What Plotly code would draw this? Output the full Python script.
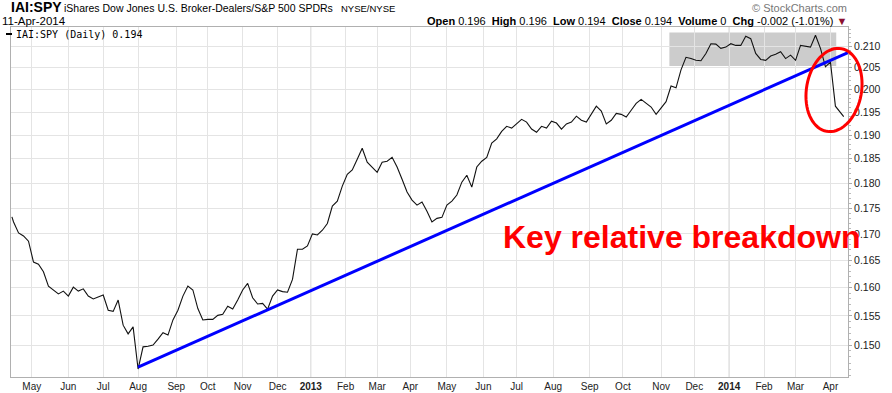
import numpy as np
import pandas as pd
import plotly.graph_objects as go

# ---------------- data ----------------
SYMBOL = "IAI:SPY"
NAME = "iShares Dow Jones U.S. Broker-Dealers/S&P 500 SPDRs"
EXCHANGE = "NYSE/NYSE"
AS_OF = "11-Apr-2014"
OPEN, HIGH, LOW, CLOSE, VOLUME = 0.196, 0.196, 0.194, 0.194, 0
CHG, CHG_PCT = -0.002, -1.01

FIRST_DAY = "2012-04-13"
LAST_DAY = "2014-04-11"
HOLIDAYS = ["2012-05-28", "2012-07-04", "2012-09-03", "2012-10-29", "2012-10-30",
            "2012-11-22", "2012-12-25", "2013-01-01", "2013-01-21", "2013-02-18",
            "2013-03-29", "2013-05-27", "2013-07-04", "2013-09-02", "2013-11-28",
            "2013-12-25", "2014-01-01", "2014-01-20", "2014-02-17"]

# IAI:SPY ratio, first session, then every third session from the 2nd, then the last session
RATIO = [
    0.1733,
    0.1723, 0.1702, 0.1696, 0.1686, 0.1647, 0.1643, 0.1629, 0.1603, 0.1596, 0.1589,
    0.1594, 0.1585, 0.1601, 0.1594, 0.1598, 0.1585, 0.1580, 0.1583, 0.1587, 0.1560,
    0.1558, 0.1578, 0.1534, 0.1519, 0.1531, 0.1460, 0.1497, 0.1498, 0.1500, 0.1510,
    0.1521, 0.1517, 0.1543, 0.1560, 0.1585, 0.1603, 0.1596, 0.1563, 0.1543, 0.1544,
    0.1544, 0.1551, 0.1553, 0.1567, 0.1562, 0.1578, 0.1596, 0.1608, 0.1582, 0.1571,
    0.1572, 0.1562, 0.1585, 0.1596, 0.1593, 0.1592, 0.1615, 0.1671, 0.1671, 0.1677,
    0.1700, 0.1698, 0.1707, 0.1720, 0.1754, 0.1764, 0.1794, 0.1818, 0.1827, 0.1849,
    0.1872, 0.1843, 0.1833, 0.1822, 0.1843, 0.1845, 0.1853, 0.1833, 0.1808, 0.1782,
    0.1766, 0.1756, 0.1762, 0.1744, 0.1723, 0.1730, 0.1732, 0.1756, 0.1764, 0.1776,
    0.1802, 0.1816, 0.1792, 0.1833, 0.1845, 0.1853, 0.1883, 0.1892, 0.1908, 0.1919,
    0.1915, 0.1924, 0.1934, 0.1928, 0.1913, 0.1906, 0.1919, 0.1915, 0.1930, 0.1926,
    0.1913, 0.1924, 0.1928, 0.1941, 0.1932, 0.1928, 0.1945, 0.1963, 0.1952, 0.1924,
    0.1932, 0.1947, 0.1945, 0.1939, 0.1954, 0.1969, 0.1978, 0.1970, 0.1961, 0.1945,
    0.1958, 0.1973, 0.2008, 0.2004, 0.2045, 0.2074, 0.2071, 0.2067, 0.2066, 0.2083,
    0.2106, 0.2105, 0.2095, 0.2098, 0.2106, 0.2102, 0.2102, 0.2124, 0.2118, 0.2083,
    0.2069, 0.2067, 0.2077, 0.2081, 0.2087, 0.2071, 0.2079, 0.2067, 0.2102, 0.2100,
    0.2098, 0.2126, 0.2095, 0.2052, 0.2063, 0.1963, 0.1950,
    0.1940,
]

TREND_DATES = ["2012-08-01", "2014-04-15 14:00"]
TREND_VALUES = [0.1463, 0.2085]

BOX_DATES = ["2013-11-08", "2014-04-04 12:00"]
BOX_VALUES = [0.2054, 0.2133]

TICK_MONTHS = ["2012-05", "2012-06", "2012-07", "2012-08", "2012-09", "2012-10", "2012-11",
               "2012-12", "2013-01", "2013-02", "2013-03", "2013-04", "2013-05", "2013-06",
               "2013-07", "2013-08", "2013-09", "2013-10", "2013-11", "2013-12", "2014-01",
               "2014-02", "2014-03", "2014-04"]
TICK_LABELS = ["May", "Jun", "Jul", "Aug", "Sep", "Oct", "Nov", "Dec", "2013", "Feb", "Mar",
               "Apr", "May", "Jun", "Jul", "Aug", "Sep", "Oct", "Nov", "Dec", "2014", "Feb",
               "Mar", "Apr"]

Y_TICKS = [0.150, 0.155, 0.160, 0.165, 0.170, 0.175, 0.180, 0.185, 0.190, 0.195, 0.200,
           0.205, 0.210]
Y_RANGE = [0.1447, 0.2146]
X_RANGE = ["2012-04-12 11:00", "2014-04-15 14:00"]

ANNOTATION_TEXT = "Key relative breakdown"

# ---------------- build ----------------
days = pd.bdate_range(FIRST_DAY, LAST_DAY, freq="C", holidays=HOLIDAYS)
n = len(days)
idx = [0] + list(range(1, n - 2, 3)) + [n - 1]
dates = [days[i] for i in idx]
m = min(len(dates), len(RATIO))
dates = dates[-m:]
vals = RATIO[-m:]

firsts = pd.Series(days, index=days).groupby(days.to_period("M")).first()
tickvals = [firsts[pd.Period(mo, freq="M")] for mo in TICK_MONTHS]
ticktext = [f"<b>{t}</b>" if t.isdigit() else t for t in TICK_LABELS]
year_lines = [tv for tv, t in zip(tickvals, TICK_LABELS) if t.isdigit()]

W, H = 892, 393
L, R, T, B = 11, 44, 27, 16
PW, PH = W - L - R, H - T - B


def px_x(px):
    return (px - L) / PW


def px_y(py):
    return (H - B - py) / PH


fig = go.Figure()

fig.add_trace(go.Scatter(x=dates, y=vals, mode="lines",
                         line=dict(color="#111111", width=1.1),
                         hoverinfo="skip", showlegend=False))
fig.add_trace(go.Scatter(x=TREND_DATES, y=TREND_VALUES, mode="lines",
                         line=dict(color="#0000ff", width=3),
                         hoverinfo="skip", showlegend=False))

shapes = []
shapes.append(dict(type="rect", xref="x", yref="y", x0=BOX_DATES[0], x1=BOX_DATES[1],
                   y0=BOX_VALUES[0], y1=BOX_VALUES[1], fillcolor="#cccccc",
                   line=dict(width=0), layer="below"))
for yl in year_lines:
    shapes.append(dict(type="line", xref="x", yref="paper", x0=yl, x1=yl, y0=0, y1=1,
                       line=dict(color="#c6c6c6", width=1), layer="below"))

# red ellipse (annotation, slightly tilted)
cx, cy, a, b, phi = 834.0, 90.0, 42.0, 27.5, np.deg2rad(10)
t = np.linspace(0, 2 * np.pi, 73)
ex = cx + a * np.sin(t) * np.sin(phi) + b * np.cos(t) * np.cos(phi)
ey = cy - a * np.sin(t) * np.cos(phi) + b * np.cos(t) * np.sin(phi)
path = "M " + " L ".join(f"{px_x(x):.5f},{px_y(y):.5f}" for x, y in zip(ex, ey)) + " Z"
shapes.append(dict(type="path", xref="paper", yref="paper", path=path,
                   line=dict(color="#ff0000", width=3), layer="above"))

# legend dash
shapes.append(dict(type="line", xref="paper", yref="paper", x0=px_x(6), x1=px_x(12),
                   y0=px_y(34), y1=px_y(34), line=dict(color="#000000", width=2)))

ann = []
ann.append(dict(text=f"<b>{SYMBOL}</b>", x=px_x(9), y=px_y(7), xanchor="left",
                yanchor="middle", font=dict(family="Liberation Sans", size=14, color="#000")))
ann.append(dict(text=NAME, x=px_x(62), y=px_y(7.5), xanchor="left", yanchor="middle",
                font=dict(family="Liberation Sans", size=10.5, color="#000")))
ann.append(dict(text=EXCHANGE, x=px_x(339), y=px_y(8), xanchor="left", yanchor="middle",
                font=dict(family="Liberation Sans", size=9.5, color="#000")))
ann.append(dict(text=AS_OF, x=px_x(0), y=px_y(21.5), xanchor="left", yanchor="middle",
                font=dict(family="Liberation Sans", size=11.5, color="#000")))
hdr = (f"<b>Open</b> {OPEN:.3f}  <b>High</b> {HIGH:.3f}  <b>Low</b> {LOW:.3f}  "
       f"<b>Close</b> {CLOSE:.3f}  <b>Volume</b> {VOLUME}  <b>Chg</b> {CHG:.3f} "
       f"({CHG_PCT:.2f}%) <span style='color:#8b1030'>▼</span>")
ann.append(dict(text=hdr, x=px_x(849), y=px_y(21), xanchor="right", yanchor="middle",
                font=dict(family="Liberation Sans", size=11, color="#000")))
ann.append(dict(text="© StockCharts.com", x=px_x(849), y=px_y(8), xanchor="right",
                yanchor="middle", font=dict(family="Liberation Sans", size=11, color="#777")))
ann.append(dict(text=f"{SYMBOL} (Daily) {CLOSE:.3f}", x=px_x(14), y=px_y(34.5),
                xanchor="left", yanchor="middle",
                font=dict(family="DejaVu Sans Mono", size=10, color="#000")))
ann.append(dict(text=f"<b>{ANNOTATION_TEXT}</b>", x=px_x(500.5), y=px_y(237),
                xanchor="left", yanchor="middle",
                font=dict(family="Liberation Sans", size=32, color="#ff0000")))
for d in ann:
    d.update(xref="paper", yref="paper", showarrow=False)

minor_vals = [round(v, 3) for v in np.arange(0.145, 0.2145, 0.001)]

fig.update_layout(
    width=W, height=H,
    margin=dict(l=L, r=R, t=T, b=B, pad=0, autoexpand=False),
    paper_bgcolor="white", plot_bgcolor="white",
    showlegend=False,
    shapes=shapes, annotations=ann,
    xaxis=dict(
        type="date", range=X_RANGE,
        rangebreaks=[dict(bounds=["sat", "mon"]), dict(values=HOLIDAYS)],
        tickmode="array", tickvals=tickvals, ticktext=ticktext,
        showgrid=True, gridcolor="#e4e4e4", gridwidth=1,
        showline=True, linecolor="#b0b0b0", linewidth=1, mirror=True,
        ticks="", ticklen=0,
        tickfont=dict(family="Liberation Sans", size=10, color="#222"),
        zeroline=False, fixedrange=True, automargin=False,
    ),
    yaxis=dict(
        type="log", side="right",
        range=[np.log10(Y_RANGE[0]), np.log10(Y_RANGE[1])],
        tickmode="array", tickvals=Y_TICKS, ticktext=[f"{v:.3f}" for v in Y_TICKS],
        showgrid=True, gridcolor="#e4e4e4", gridwidth=1,
        showline=True, linecolor="#b0b0b0", linewidth=1, mirror=True,
        ticks="outside", ticklen=3, tickcolor="#aaaaaa",
        minor=dict(tickmode="array", tickvals=minor_vals, ticks="outside", ticklen=2,
                   tickcolor="#bbbbbb", showgrid=False),
        tickfont=dict(family="Liberation Sans", size=10.5, color="#222"),
        zeroline=False, fixedrange=True, automargin=False,
    ),
)

fig.write_html("out.html", config={"displayModeBar": False},
               post_script="document.body.style.margin='0px';"
                           "document.body.style.overflow='hidden';")
